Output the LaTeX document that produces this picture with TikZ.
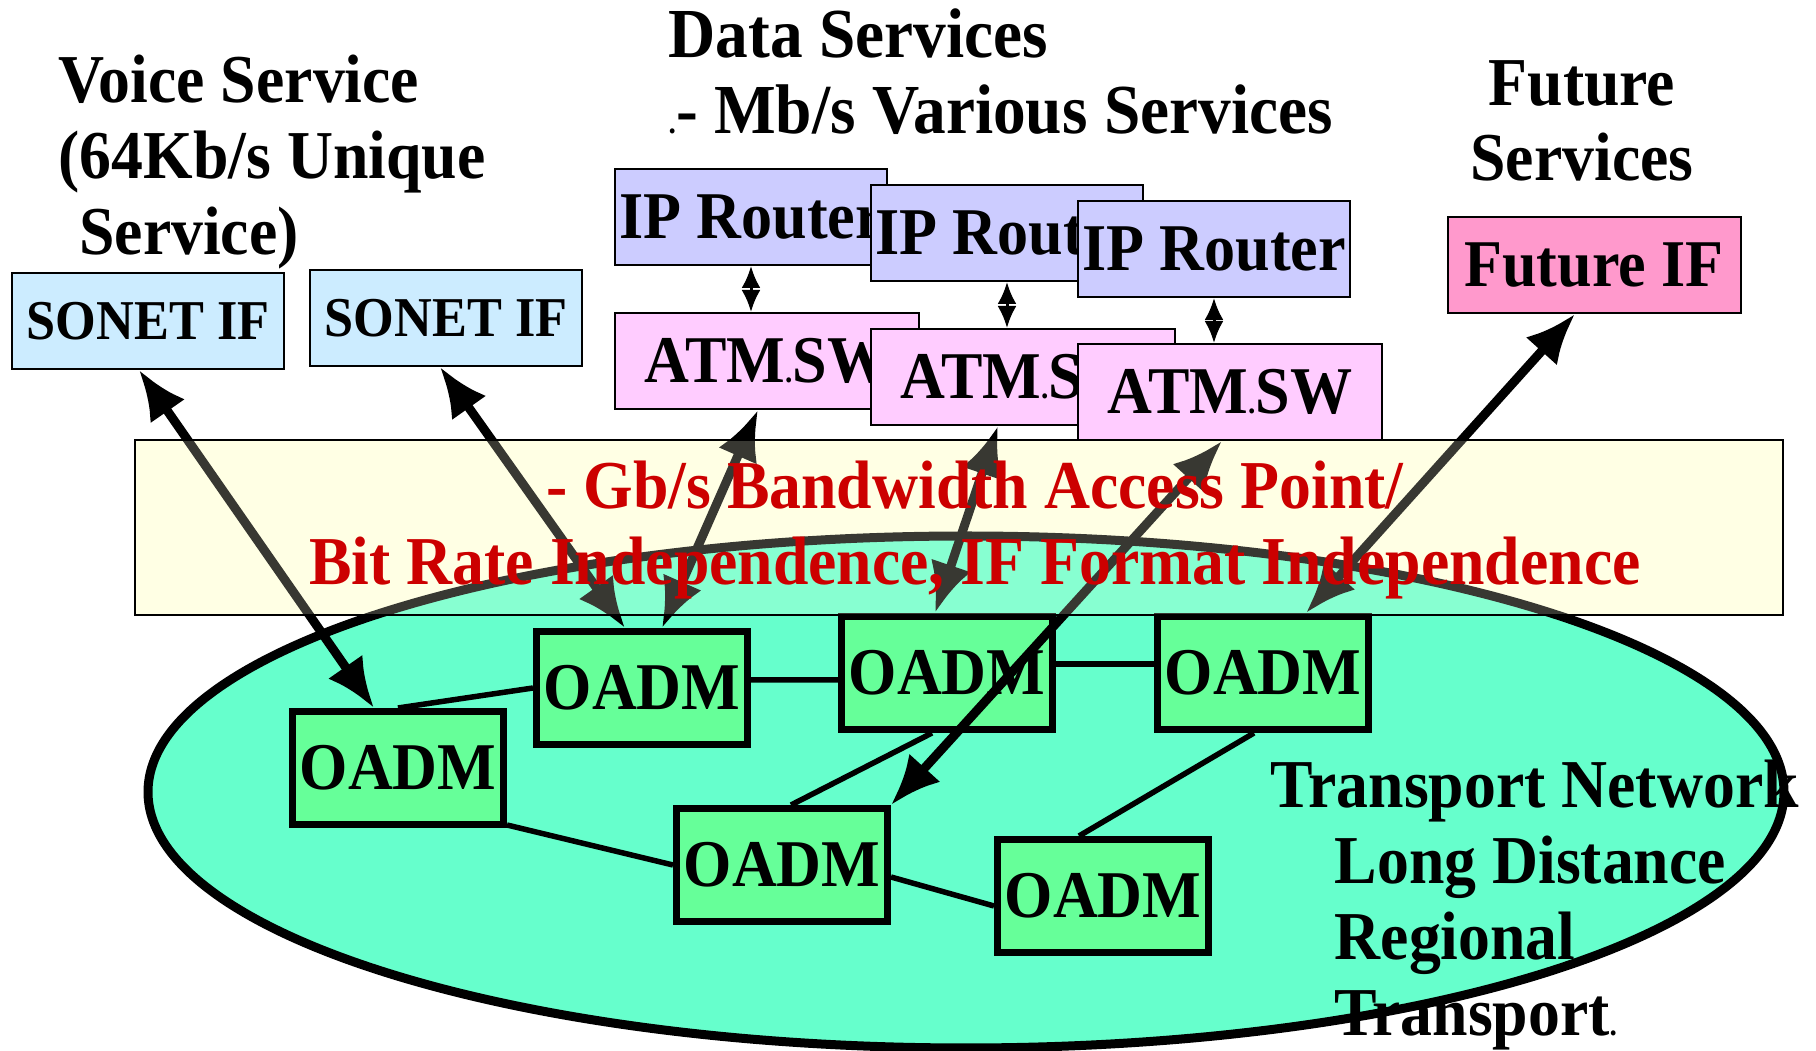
\documentclass[tikz,border=0pt]{standalone}
\usepackage{fontspec}
\setmainfont{Liberation Serif}[FakeStretch=0.93]
\usepackage{tikz}
\usetikzlibrary{shapes, arrows.meta, positioning, calc}

\definecolor{sonetblue}{RGB}{204,236,255}
\definecolor{routerblue}{RGB}{204,204,255}
\definecolor{atmpink}{RGB}{255,204,255}
\definecolor{futurepink}{RGB}{255,153,204}
\definecolor{bandyellow}{RGB}{255,255,228}
\definecolor{netgreen}{RGB}{102,255,204}
\definecolor{oadmgreen}{RGB}{102,255,153}
\definecolor{bandred}{RGB}{204,0,0}

\newcommand{\svcfont}{\bfseries\fontsize{19.5}{21.5}\selectfont}
\newcommand{\smalldot}{{\fontsize{9}{9}\selectfont.}}

\tikzstyle{ifbox} = [draw, rectangle, line width=0.2mm, inner sep=0pt, minimum height=9.6mm, font=\bfseries\fontsize{19}{21}\selectfont]
\tikzstyle{sonet} = [ifbox, fill=sonetblue, minimum width=27.2mm, font=\bfseries\fontsize{16}{18}\selectfont]
\tikzstyle{router} = [ifbox, fill=routerblue, minimum width=27.2mm]
\tikzstyle{atmsw} = [ifbox, fill=atmpink, minimum width=30.4mm]
\tikzstyle{futureif} = [ifbox, fill=futurepink, minimum width=29.3mm]
\tikzstyle{oadm} = [draw, rectangle, line width=0.7mm, fill=oadmgreen, inner sep=0pt, minimum width=21.1mm, minimum height=11.3mm, font=\bfseries\fontsize{19}{21}\selectfont]
\tikzstyle{heading} = [align=left, inner sep=0pt, font=\svcfont]
\tikzstyle{link} = [line width=0.55mm]
\tikzstyle{access} = [line width=0.9mm, <->, >={Latex[length=5mm, width=4.2mm]}]
\tikzstyle{stack} = [line width=0.3mm, <->, >={Latex[length=2.2mm, width=1.9mm]}]

\begin{document}
\begin{tikzpicture}[x=0.1mm, y=-0.1mm]
        \useasboundingbox (0,0) rectangle (1816,1051);
        % access band, lower layer
        \node[fill=bandyellow, minimum width=164.8mm, minimum height=17.5mm, inner sep=0pt] (bandbase) at (959,527.5) {};
        \node[draw, ellipse, line width=0.9mm, fill=netgreen, minimum width=163.6mm, minimum height=51.2mm, inner sep=0pt] (net) at (966,792) {};

        \node[heading, anchor=west] (voice) at (58,162) {Voice Service\\(64Kb/s Unique\\\hspace*{0.3em}Service)};
        \node[heading, anchor=west, font=\bfseries\fontsize{20}{21.6}\selectfont] (data) at (668,72) {Data Services\\\smalldot- Mb/s Various Services};
        \node[heading, align=center] (future) at (1582,121) {Future\\Services};

        \node[sonet] (sonet1) at (148,321) {SONET IF};
        \node[sonet] (sonet2) at (446,318) {SONET IF};
        \node[router] (ip1) at (751,217) {\makebox[0pt]{IP Router}};
        \node[atmsw] (atm1) at (767,361) {\makebox[0pt]{ATM\smalldot SW}};
        \node[router] (ip2) at (1007,233) {\makebox[0pt]{IP Router}};
        \node[atmsw] (atm2) at (1023,377) {\makebox[0pt]{ATM\smalldot SW}};
        \node[router] (ip3) at (1214,249) {\makebox[0pt]{IP Router}};
        \node[atmsw] (atm3) at (1230,392) {\makebox[0pt]{ATM\smalldot SW}};
        \node[futureif] (futif) at (1594,265) {Future IF};

        \draw[stack] (ip1.south) -- (ip1.south |- atm1.north);
        \draw[stack] (ip2.south) -- (ip2.south |- atm2.north);
        \draw[stack] (ip3.south) -- (ip3.south |- atm3.north);

        \node[oadm] (oadmA) at (398,768) {OADM};
        \node[oadm] (oadmB) at (642,688) {OADM};
        \node[oadm] (oadmC) at (947,673) {OADM};
        \node[oadm] (oadmD) at (1263,673) {OADM};
        \node[oadm] (oadmE) at (782,865) {OADM};
        \node[oadm] (oadmF) at (1103,896) {OADM};

        \draw[link] (oadmA.north) -- (oadmB.west);
        \draw[link] ([yshift=0.8mm]oadmB.east) -- ([yshift=-0.7mm]oadmC.west);
        \draw[link] ([yshift=0.9mm]oadmC.east) -- ([yshift=0.9mm]oadmD.west);
        \draw[link] ([yshift=0.3mm]oadmA.south east) -- (oadmE.west);
        \draw[link] ([yshift=-1.2mm]oadmE.east) -- ([yshift=-1mm]oadmF.west);
        \draw[link] ([xshift=-1.5mm]oadmC.south) -- ([xshift=0.9mm]oadmE.north);
        \draw[link] ([xshift=-0.9mm]oadmD.south) -- ([xshift=-2.4mm]oadmF.north);

        \draw[access] ([xshift=-0.9mm]sonet1.south) -- ([xshift=-2.4mm]oadmA.north);
        \draw[access] ([xshift=-0.6mm]sonet2.south) -- ([xshift=-1.7mm]oadmB.north);
        \draw[access] ([xshift=-0.9mm]atm1.south) -- ([xshift=2mm]oadmB.north);
        \draw[access] ([xshift=-2.5mm]atm2.south) -- ([xshift=-1.2mm]oadmC.north);
        \draw[access] ([xshift=-0.8mm]atm3.south) -- (oadmE.north east);
        \draw[access] ([xshift=-1.9mm]futif.south) -- ([xshift=4.3mm]oadmD.north);

        % access band, glass layer over the network
        \node[draw, line width=0.2mm, fill=bandyellow, fill opacity=0.22, minimum width=164.8mm, minimum height=17.5mm, inner sep=0pt] (band) at (959,527.5) {};
        \node[heading, align=center, text=bandred] (bandtext) at (975,530) {- Gb/s Bandwidth Access Point/\\Bit Rate Independence, IF Format Independence};

        \node[heading, anchor=west, font=\bfseries\fontsize{19.5}{21.6}\selectfont] (transport) at (1270,905) {Transport Network\\\hspace*{6.4mm}Long Distance\\\hspace*{6.4mm}Regional\\\hspace*{6.4mm}Transport\smalldot};
    \end{tikzpicture}
\end{document}
